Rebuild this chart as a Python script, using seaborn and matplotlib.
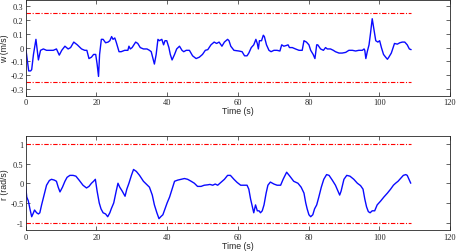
import numpy as np
import pandas as pd
import matplotlib
matplotlib.use("Agg")
import matplotlib.pyplot as plt
import seaborn as sns

# heave velocity w (m/s)
t_w = [0, 0.5, 0.85, 1.4, 1.7, 2.2, 2.9, 3.6, 4.2, 5, 5.9, 7.8, 8.7, 9.5, 10.2, 11.1, 12, 12.7,
       13.6, 14.6, 15.8, 16.7, 17.3, 17.9, 18.6, 19.2, 19.8, 20.2, 20.6, 20.9, 21.4, 21.9, 22.6,
       23.3, 23.8, 24.3, 24.7, 25.2, 25.6, 26.4, 27, 28, 28.9, 29.2, 29.6, 30.1, 31.1, 31.7, 32.4,
       33.3, 34.3, 35, 35.5, 36, 36.4, 36.9, 37.4, 37.8, 38.5, 39, 39.4, 39.9, 40.5, 40.9, 41.4,
       42.1, 42.7, 43.5, 44.2, 44.7, 45.4, 46.3, 47.2, 48.2, 49.1, 50, 50.8, 51.5, 52.4, 53.3, 54,
       54.7, 55.5, 56.2, 57.1, 57.5, 58, 58.9, 60.3, 61.2, 61.9, 62.6, 63.1, 63.8, 64.5, 65.1,
       65.5, 65.8, 66.1, 66.7, 67.2, 67.5, 68.1, 68.8, 69.4, 70.2, 71.1, 71.9, 72.4, 73, 73.7,
       74.2, 74.6, 75.4, 76.3, 77.3, 78.2, 78.7, 79.4, 80.1, 80.6, 81.3, 81.8, 82.3, 82.6, 83.4,
       84.2, 84.8, 85.3, 86.2, 87, 87.6, 88.6, 89.5, 90.5, 91.4, 92.4, 93.3, 94.2, 95.2, 95.7,
       95.9, 96.2, 96.6, 97.1, 97.5, 98, 98.5, 99, 99.6, 100.1, 100.6, 101.2, 101.8, 102.3,
       102.7, 103.4, 103.9, 104.3, 105.1, 105.8, 106.5, 107.2, 107.9, 108.5, 109]
w = [0.0, -0.1, -0.17, -0.17, -0.16, -0.05, 0.06, -0.09, -0.02, -0.01, -0.02, -0.02, -0.01,
     -0.055, -0.02, 0.01, -0.01, 0.0, 0.04, 0.02, -0.01, -0.02, -0.02, -0.08, -0.07, -0.05,
     -0.05, -0.12, -0.21, -0.05, 0.06, 0.06, 0.035, 0.04, 0.05, 0.08, 0.06, 0.07, 0.04, -0.03,
     -0.03, -0.02, -0.02, 0.01, -0.01, 0.0, 0.04, 0.03, 0.0, -0.01, -0.01, -0.02, -0.03, -0.08,
     -0.12, -0.05, 0.06, 0.05, 0.06, 0.02, 0.05, 0.05, 0.0, -0.05, -0.09, -0.05, -0.01, 0.01,
     -0.02, -0.03, -0.02, -0.02, -0.06, -0.08, -0.07, -0.05, -0.02, -0.015, 0.02, 0.04, 0.03,
     0.04, 0.01, 0.04, 0.06, 0.05, 0.01, -0.02, -0.025, -0.03, -0.06, -0.06, -0.04, 0.0, 0.02,
     0.06, 0.03, -0.01, 0.05, 0.05, 0.09, 0.08, 0.02, -0.02, -0.03, -0.02, -0.02, -0.025, 0.02,
     0.01, 0.015, 0.02, 0.0, 0.0, -0.01, -0.02, -0.02, 0.05, 0.04, 0.02, -0.02, -0.05, -0.08,
     0.02, 0.02, -0.01, -0.02, 0.0, -0.01, -0.01, -0.02, -0.03, -0.04, -0.04, -0.035, -0.02,
     -0.02, -0.025, -0.02, -0.02, -0.01, -0.02, -0.08, -0.03, 0.02, 0.1, 0.21, 0.13, 0.05, 0.04,
     0.05, 0.0, -0.05, -0.07, -0.085, -0.07, -0.04, 0.0, 0.03, 0.025, 0.035, 0.04, 0.04, 0.02,
     -0.01, -0.015]

# yaw rate r (rad/s)
t_r = [0, 0.3, 0.75, 1.2, 1.7, 2.2, 2.5, 3.1, 3.6, 4.0, 4.5, 5.2, 5.9, 6.7, 7.3, 8.1, 8.7, 9.2,
       9.7, 10.4, 11.1, 11.7, 12.5, 13.4, 14.2, 15.1, 16.2, 17.2, 17.9, 18.6, 19.2, 19.7, 20.2,
       20.8, 21.3, 21.9, 22.6, 23.2, 23.8, 24.2, 24.9, 25.6, 26.1, 26.6, 27.3, 28.1, 28.6, 29.2,
       29.9, 30.5, 31.3, 32.2, 33.3, 34.1, 35, 35.8, 36.4, 37.1, 37.7, 38.2, 38.8, 39.4, 40,
       40.7, 41.4, 42.1, 43, 43.9, 44.9, 45.8, 46.8, 47.7, 48.6, 49.6, 50.5, 51.5, 52.1, 52.9,
       53.6, 54.3, 55.2, 56.2, 57.1, 57.9, 58.9, 59.8, 60.8, 61.7, 62.6, 63.1, 63.6, 64.1, 64.5,
       65, 65.5, 66, 66.4, 66.9, 67.4, 68, 68.5, 69.2, 70.2, 71.1, 72.1, 72.8, 73.8, 74.7, 75.8,
       77, 77.9, 78.7, 79.2, 79.6, 80.1, 80.6, 81.2, 81.7, 82.3, 82.9, 83.6, 84.3, 85.1, 85.8,
       86.7, 87.6, 88.3, 88.8, 89.2, 90, 90.8, 91.7, 92.8, 93.8, 94.7, 95.4, 95.9, 96.4, 96.9,
       97.4, 98, 98.7, 99.4, 100.4, 101.3, 102.3, 103.2, 104, 104.6, 105.3, 106, 106.8, 107.5,
       107.9, 108.4, 108.9]
r = [-0.08, -0.35, -0.45, -0.65, -0.85, -0.75, -0.68, -0.75, -0.78, -0.75, -0.55, -0.3, -0.05,
     0.07, 0.1, 0.08, 0.05, -0.1, -0.22, -0.1, 0.05, 0.15, 0.2, 0.2, 0.18, 0.08, -0.05, -0.12,
     -0.08, 0.0, 0.05, 0.1, -0.2, -0.5, -0.65, -0.75, -0.78, -0.85, -0.75, -0.65, -0.5, -0.2,
     0.0, -0.1, -0.2, -0.33, -0.15, 0.0, 0.2, 0.35, 0.3, 0.2, 0.05, -0.02, -0.1, -0.3, -0.55,
     -0.75, -0.9, -0.85, -0.8, -0.65, -0.5, -0.35, -0.15, 0.05, 0.08, 0.1, 0.12, 0.1, 0.05, 0.0,
     -0.08, -0.08, -0.05, -0.04, -0.03, -0.05, -0.02, -0.05, 0.02, 0.1, 0.2, 0.2, 0.1, 0.02,
     -0.05, -0.05, -0.05, -0.15, -0.4, -0.6, -0.75, -0.55, -0.7, -0.7, -0.75, -0.7, -0.55,
     -0.25, -0.05, 0.03, -0.02, -0.05, -0.05, 0.1, 0.28, 0.18, 0.05, 0.0, -0.1, -0.25, -0.5,
     -0.65, -0.8, -0.85, -0.8, -0.65, -0.55, -0.35, -0.1, 0.1, 0.22, 0.2, 0.08, -0.05, -0.2,
     -0.3, -0.2, 0.1, 0.2, 0.18, 0.1, 0.0, -0.06, -0.15, -0.4, -0.6, -0.72, -0.75, -0.7, -0.7,
     -0.55, -0.45, -0.35, -0.25, -0.15, -0.05, 0.0, 0.05, 0.12, 0.2, 0.22, 0.2, 0.1, 0.0]

w_limit = 0.25
r_limit = 1.0
t_end = 109

sns.set_style("ticks")
plt.rcParams['font.family'] = ['Liberation Serif', 'DejaVu Serif']
plt.rcParams['font.size'] = 6
plt.rcParams['axes.unicode_minus'] = False
plt.rcParams['xtick.direction'] = 'in'
plt.rcParams['ytick.direction'] = 'in'

df_w = pd.DataFrame({'t': t_w, 'v': w})
df_r = pd.DataFrame({'t': t_r, 'v': r})

fig = plt.figure(figsize=(4.57, 2.53), dpi=100)
ax1 = fig.add_axes([0.0562, 0.618, 0.9285, 0.38])
ax2 = fig.add_axes([0.0562, 0.085, 0.9285, 0.3735])

panels = [
    (ax1, df_w, w_limit, 'w (m/s)', (-0.35, 0.35), [-0.3, -0.2, -0.1, 0, 0.1, 0.2, 0.3],
     ['-0.3', '-0.2', '-0.1', '0', '0.1', '0.2', '0.3']),
    (ax2, df_r, r_limit, 'r (rad/s)', (-1.2, 1.2), [-1, -0.5, 0, 0.5, 1],
     ['-1', '-0.5', '0', '0.5', '1']),
]

label_font = dict(family=['Liberation Sans', 'DejaVu Sans'], size=6.3)

for ax, df, lim, ylab, ylim, yt, ytl in panels:
    for sgn in (1, -1):
        lim_df = pd.DataFrame({'t': [0, t_end], 'v': [sgn * lim, sgn * lim]})
        sns.lineplot(data=lim_df, x='t', y='v', ax=ax, color='red', lw=0.8,
                     linestyle=(0, (4, 1.5, 1, 1.5)))
    sns.lineplot(data=df, x='t', y='v', ax=ax, color='#0a0aff', lw=1.0, estimator=None, sort=False)
    ax.set_xlim(0, 120)
    ax.set_ylim(*ylim)
    ax.set_xticks(range(0, 121, 20))
    ax.set_yticks(yt)
    ax.set_yticklabels(ytl)
    ax.set_xlabel('Time (s)', labelpad=0.2, fontdict=label_font)
    ax.set_ylabel(ylab, labelpad=1, fontdict=label_font)
    ax.tick_params(top=True, right=True, length=3, width=0.5, pad=1.5, labelsize=6)
    for s in ax.spines.values():
        s.set_linewidth(0.6)
        s.set_visible(True)

fig.savefig('out.png', dpi=100)
